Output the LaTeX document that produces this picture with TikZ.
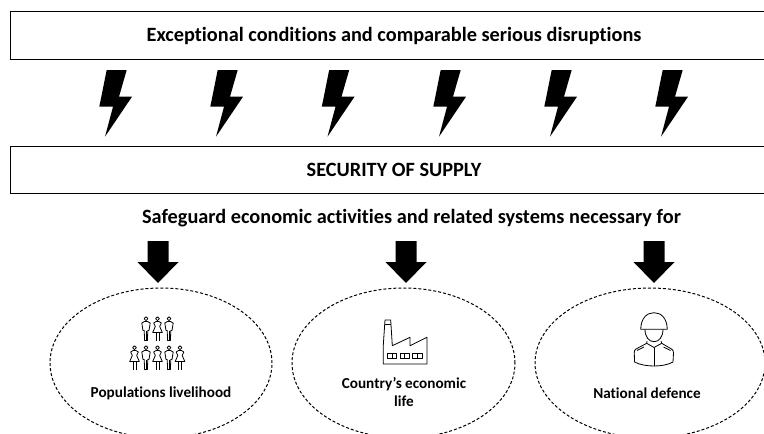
\documentclass[tikz,border=0pt]{standalone}
\usepackage{fontspec}
\setmainfont[Ligatures=NoCommon]{Carlito}
\usetikzlibrary{positioning}
\usetikzlibrary{shapes.geometric}

\tikzset{
  titlebox/.style={draw, line width=0.8pt, minimum width=768pt, minimum height=47.5pt, inner sep=0pt, text height=15pt, text depth=3pt, font=\fontsize{20.3}{24}\selectfont\bfseries},
  scopecircle/.style={draw, ellipse, dashed, dash pattern=on 3pt off 2pt, line width=1pt, inner sep=0pt},
  caption/.style={font=\fontsize{15.2}{18}\selectfont\bfseries, align=center, inner sep=0pt},
  icon/.style={line width=0.8pt, line join=round},
  pics/bolt/.style={code={
    \fill (-13.3,-33) -- (6.7,-33) -- (-1,-6.3) -- (12,-6.3) -- (-15,33.7) -- (-7,3.7) -- (-20.7,3.7) -- cycle;
  }},
  pics/downarrow/.style={code={
    \fill (-10.5,0) -- (10.5,0) -- (10.5,21) -- (20.5,21) -- (0,42) -- (-20.5,21) -- (-10.5,21) -- cycle;
  }},
  pics/man/.style={code={
    \draw[icon] (0,3.2) circle (1.9);
    \draw[icon] (-1.4,25) -- (-1.8,15) -- (-3,15) -- (-4.2,7.5) -- (-1.5,6) -- (1.5,6) -- (4.2,7.5) -- (3,15) -- (1.8,15) -- (1.4,25) -- cycle;
    \draw[icon] (0,15) -- (0,25);
  }},
  pics/woman/.style={code={
    \draw[icon] (0,3.2) circle (1.9);
    \draw[icon] (-1.5,6) -- (1.5,6) -- (3.8,7.5) -- (2.2,11) -- (4.8,17) -- (-4.8,17) -- (-2.2,11) -- (-3.8,7.5) -- cycle;
    \draw[icon] (-1.4,17) -- (-1.4,25) (1.4,17) -- (1.4,25);
  }},
}

\begin{document}
\begin{tikzpicture}[x=1pt, y=-1pt]
  \useasboundingbox (0,0) rectangle (764,434);
  \clip (0,0) rectangle (764,434);

  \node [titlebox] (disruptions) at (394,35.5) {Exceptional conditions and comparable serious disruptions};
  \node [titlebox] (supply) at (394,170) {SECURITY OF SUPPLY};

  \foreach \x in {120,231,342.5,454,565,676} {
    \pic at (\x,103) {bolt};
  }

  \node [font=\fontsize{20.3}{24}\selectfont\bfseries, inner sep=0pt] (safeguard) at (411.5,218) {Safeguard economic activities and related systems necessary for};

  \foreach \x in {158,406,654} {
    \pic at (\x,241) {downarrow};
  }

  % the three circles run off the page
  \node [scopecircle, minimum width=222pt, minimum height=150pt] (people) at (161,363) {};
  \node [scopecircle, minimum width=223pt, minimum height=150pt] (economy) at (403.5,363) {};
  \node [scopecircle, minimum width=230pt, minimum height=150pt] (defence) at (650,363) {};

  \node [caption] (peoplelabel) at (161,393) {Populations livelihood};
  \node [caption] (economylabel) at (404,392.5) {Country’s economic\\life};
  \node [caption] (defencelabel) at (647,393) {National defence};

  % people
  \foreach \x/\kind in {146/man,157.5/woman,169/man} {
    \pic at (\x,315.5) {\kind};
  }
  \foreach \x/\kind in {134.5/woman,146/man,157.5/woman,169/man,180/woman} {
    \pic at (\x,344.5) {\kind};
  }

  % factory
  \draw [icon] (383.3,345) -- (385,320) -- (390.7,320) -- (392.3,345.7) -- (410,337.3) -- (410,345.7) -- (427,337.3) -- (427,364) -- (383.3,364) -- cycle;
  \draw [icon] (384.7,324.5) -- (391,324.5);
  \foreach \x in {387.3,400,412.7} {
    \draw [icon] (\x,353.3) rectangle +(9.3,5.4);
    \draw [icon] (\x+4.6,353.3) -- +(0,5.4);
  }

  % soldier
  \draw [icon] (640.7,329.3) .. controls (641,318) and (647,312.7) .. (654,312.7) .. controls (661,312.7) and (667,318) .. (667.3,329.3) -- cycle;
  \draw [icon] (645,329.3) .. controls (645,337) and (649,341.7) .. (654,341.7) .. controls (659,341.7) and (663,337) .. (663,329.3);
  \draw [icon] (647,341) -- (646.7,343.3) -- (654,347.5) -- (661.7,343.3) -- (661,341);
  \draw [icon] (646.7,343.3) -- (636,349) .. controls (634.5,350) and (634,351) .. (634.3,353) -- (634.5,362) .. controls (640,365) and (648,366) .. (654,366) .. controls (660,366) and (668,365) .. (673,362) -- (673.5,353) .. controls (673.5,351) and (673,350) .. (671.5,349) -- (661.7,343.3);
  \draw [icon] (654,347.5) -- (654,366);
  \draw [icon] (637,350.5) -- (644,347) (670.5,350.5) -- (663.5,347);
\end{tikzpicture}
\end{document}
